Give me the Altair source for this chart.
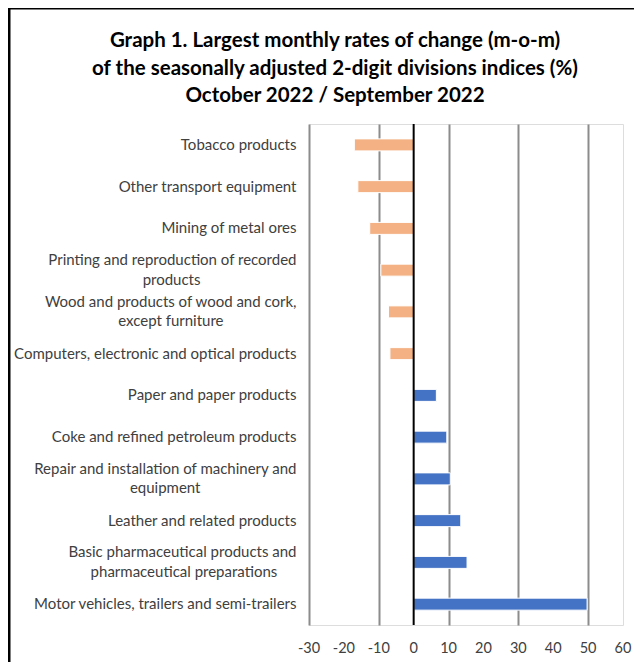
import altair as alt
import pandas as pd

title_lines = [
    "Graph 1. Largest monthly rates of change (m-o-m)",
    "of the seasonally adjusted 2-digit divisions indices (%)",
    "October 2022 / September 2022",
]

categories = [
    "Tobacco products",
    "Other transport equipment",
    "Mining of metal ores",
    "Printing and reproduction of recorded\nproducts",
    "Wood and products of wood and cork,\nexcept furniture",
    "Computers, electronic and optical products",
    "Paper and paper products",
    "Coke and refined petroleum products",
    "Repair and installation of machinery and\nequipment",
    "Leather and related products",
    "Basic pharmaceutical products and\npharmaceutical preparations",
    "Motor vehicles, trailers and semi-trailers",
]
values = [-17.0, -16.0, -12.6, -9.4, -7.2, -6.8, 6.5, 9.5, 10.5, 13.5, 15.3, 49.7]
x_ticks = [-30, -20, -10, 0, 10, 20, 30, 40, 50, 60]

# trailing no-break spaces (closed by a zero-width space so they are not trimmed)
# keep the second line of a wrapped label centred under the first
second_line_pad = {3: 25, 4: 19, 8: 25, 10: 5}
display = []
for i, c in enumerate(categories):
    if "\n" in c:
        a, b = c.split("\n")
        c = a + "\n" + b + "\u00a0" * second_line_pad.get(i, 0) + "\u200b"
    display.append(c)

df = pd.DataFrame({"category": display, "value": values})
ticks_df = pd.DataFrame({"t": x_ticks, "lab": [str(t) for t in x_ticks]})

FONT = "Lato"
xscale = alt.Scale(domain=[x_ticks[0], x_ticks[-1]], nice=False)

bars = alt.Chart(df).mark_bar(size=12, stroke="white", strokeWidth=1).encode(
    x=alt.X(
        "value:Q",
        scale=xscale,
        axis=alt.Axis(
            values=x_ticks, title=None, grid=True, gridColor="#8c8c8c", gridWidth=2,
            ticks=False, domain=False, labels=False,
        ),
    ),
    y=alt.Y(
        "category:N",
        sort=display,
        scale=alt.Scale(paddingInner=0, paddingOuter=0),
        axis=alt.Axis(
            title=None, ticks=False, domain=False, grid=False,
            labelExpr="split(datum.label, '\\n')", labelFont=FONT, labelFontSize=15,
            labelLineHeight=19.5, labelLimit=400, labelPadding=13, labelColor="#404040",
            labelOffset={"condition": {"test": "indexof(datum.label, '\\n') >= 0", "value": -10}, "value": 0},
        ),
    ),
    color=alt.condition(alt.datum.value < 0, alt.value("#F4B183"), alt.value("#4472C4")),
)

tick_labels = alt.Chart(ticks_df).mark_text(
    font=FONT, fontSize=14.5, color="#404040", baseline="middle", align="center"
).encode(x=alt.X("t:Q", scale=xscale), y=alt.value(525), text="lab:N")

zero = alt.Chart(pd.DataFrame({"z": [0]})).mark_rule(color="black", strokeWidth=2).encode(
    x=alt.X("z:Q", scale=xscale)
)

frame = alt.Chart(alt.Data(values=[{}])).mark_rect(
    filled=False, stroke="black", strokeWidth=3
).encode(
    x=alt.value(-300), x2=alt.value(400), y=alt.value(-116), y2=alt.value(600)
)

chart = alt.layer(bars, zero, tick_labels, frame).properties(
    width=314,
    height=501,
    title=alt.TitleParams(
        text=title_lines, font=FONT, fontSize=20.5, fontWeight="bold", color="black",
        lineHeight=27.5, anchor="middle", baseline="top", dx=-131, offset=-100,
    ),
    autosize=alt.AutoSizeParams(type="none"),
    padding={"left": 301, "top": 116, "right": 11, "bottom": 37},
).configure_view(stroke="black", strokeWidth=2).configure(background="white")

chart.save("out.html", embed_options={"renderer": "svg", "actions": False})
